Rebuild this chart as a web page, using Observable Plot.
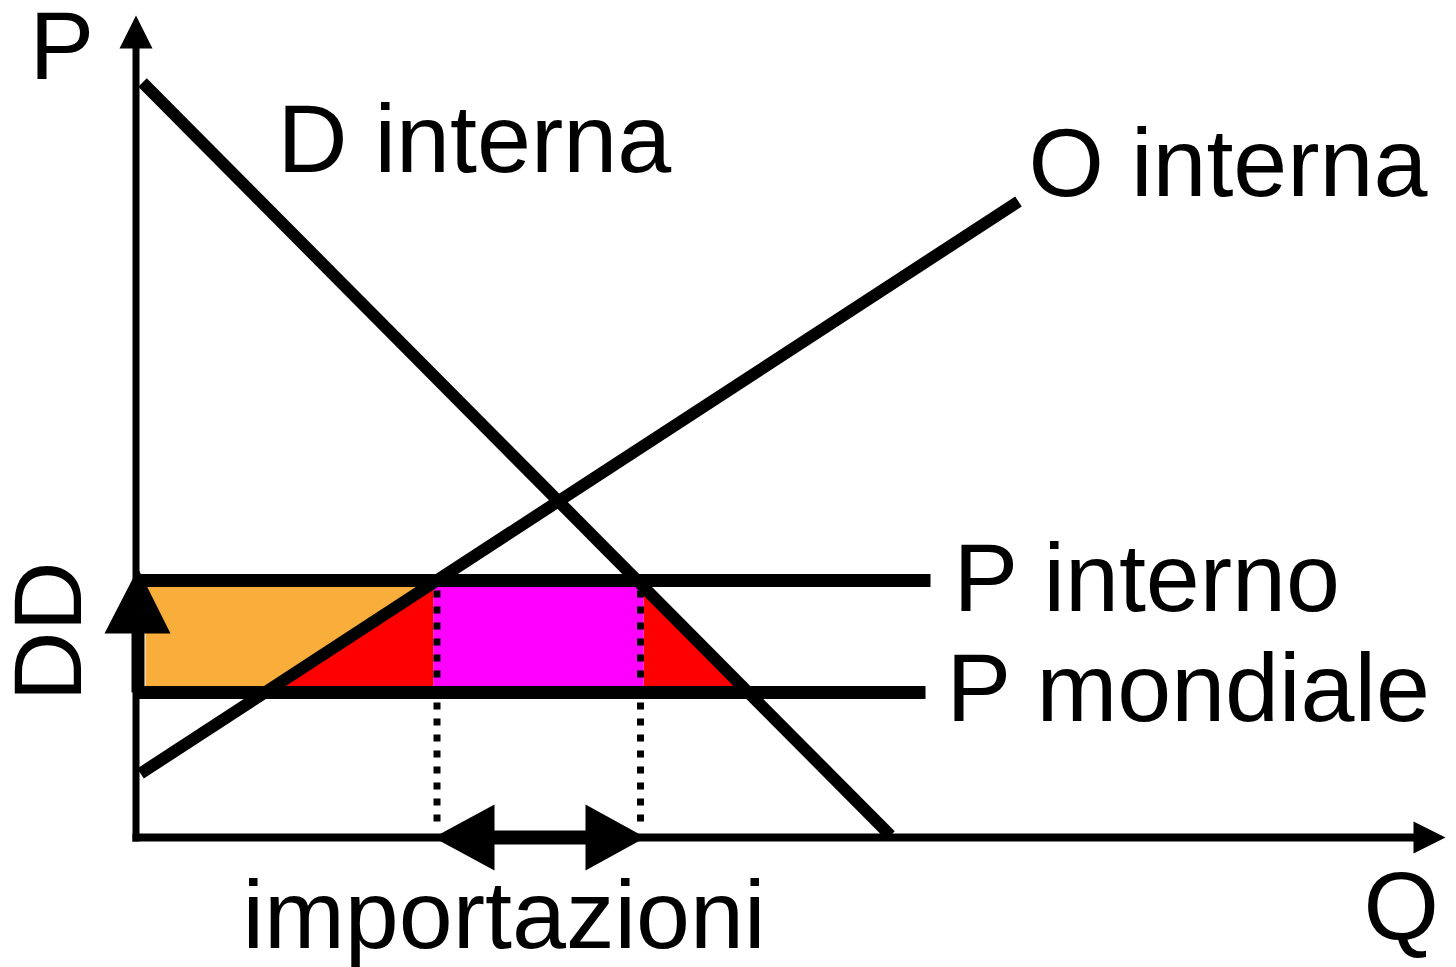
<!DOCTYPE html>
<html>
<head>
<meta charset="utf-8">
<script src="https://cdn.jsdelivr.net/npm/d3@7"></script>
<script src="https://cdn.jsdelivr.net/npm/@observablehq/plot@0.6"></script>
<style>
  html, body { margin: 0; padding: 0; background: #fff; }
</style>
</head>
<body>
<div id="chart"></div>
<script>
// ---- data (Q = quantity, P = price, arbitrary units) ----
const P_INTERNO = 25.7;
const P_MONDIALE = 14.5;
const demandQ = [0.7, 75.5];
const demandP = [75.5, 0.2];
const supplyQ = [0.5, 88.3];
const supplyP = [6.4, 63.6];
const importQ = [30.15, 50.5];      // dotted guide lines
const magentaQ = [29.8, 50.8];      // tariff revenue rectangle
const orangeLeftQ = 1.0;
const qAxisEnd = 131.0;
const pAxisEnd = 82.2;
const labels = [
  {text: "P", q: -10.6, p: 75.9},
  {text: "D interna", q: 14.2, p: 66.6},
  {text: "O interna", q: 89.3, p: 64.2},
  {text: "P interno", q: 81.8, p: 22.7},
  {text: "P mondiale", q: 81.1, p: 11.7},
  {text: "importazioni", q: 10.7, p: -11.0},
  {text: "Q", q: 122.8, p: -10.2}
];
const ddLabel = {text: "DD", q: -5.5, p: 13.6};

// ---- helpers (line equations from the endpoints above) ----
const supplyQat = p => supplyQ[0] + (p - supplyP[0]) * (supplyQ[1] - supplyQ[0]) / (supplyP[1] - supplyP[0]);
const supplyPat = q => supplyP[0] + (q - supplyQ[0]) * (supplyP[1] - supplyP[0]) / (supplyQ[1] - supplyQ[0]);
const demandQat = p => demandQ[0] + (p - demandP[0]) * (demandQ[1] - demandQ[0]) / (demandP[1] - demandP[0]);
const demandPat = q => demandP[0] + (q - demandQ[0]) * (demandP[1] - demandP[0]) / (demandQ[1] - demandQ[0]);
const pts = (qs, ps) => qs.map((q, i) => ({q, p: ps[i]}));
const poly = a => a.concat([a[0]]).map(([q, p]) => ({q, p}));

const orange = poly([[orangeLeftQ, P_MONDIALE], [orangeLeftQ, P_INTERNO], [supplyQat(P_INTERNO), P_INTERNO], [supplyQat(P_MONDIALE), P_MONDIALE]]);
const redLeft = poly([[supplyQat(P_MONDIALE), P_MONDIALE], [magentaQ[0], P_MONDIALE], [magentaQ[0], supplyPat(magentaQ[0])]]);
const magenta = poly([[magentaQ[0], P_MONDIALE], [magentaQ[0], P_INTERNO], [magentaQ[1], P_INTERNO], [magentaQ[1], P_MONDIALE]]);
const redRight = poly([[magentaQ[1], demandPat(magentaQ[1])], [magentaQ[1], P_MONDIALE], [demandQat(P_MONDIALE), P_MONDIALE]]);

// arrowheads
const headQAxis = poly([[127.8, -1.6], [qAxisEnd, 0], [127.8, 1.6]]);
const headPAxis = poly([[-1.6, 78.9], [0.05, pAxisEnd], [1.7, 78.9]]);
const headImpL = poly([[35.9, -3.3], [29.8, 0], [35.9, 3.3]]);
const headImpR = poly([[45.0, -3.3], [51.0, 0], [45.0, 3.3]]);
const headDD = poly([[-3.1, 20.4], [0.25, 26.9], [3.5, 20.4]]);

const F = {fill: "black", stroke: "none"};
const L = {x: "q", y: "p", strokeLinecap: "butt", curve: "linear"};
const FS = 97;

const chart = Plot.plot({
  width: 1456,
  height: 967,
  margin: 0,
  x: {domain: [-13.5, 132.1], axis: null},
  y: {domain: [-13, 83.7], axis: null},
  style: {background: "white", fontFamily: "'Liberation Sans', Arial, sans-serif", overflow: "visible"},
  marks: [
    Plot.line(orange, {...L, fill: "#f9ae3b", stroke: "none"}),
    Plot.line(redLeft, {...L, fill: "#ff0000", stroke: "none"}),
    Plot.line(redRight, {...L, fill: "#ff0000", stroke: "none"}),
    Plot.line(magenta, {...L, fill: "#ff00ff", stroke: "none"}),
    // dotted guides
    ...importQ.map(q => Plot.line(pts([q, q], [24.7, 0.9]), {...L, stroke: "black", strokeWidth: 7, strokeDasharray: "7,9"})),
    // price lines
    Plot.line(pts([-0.2, 79.5], [P_INTERNO, P_INTERNO]), {...L, stroke: "black", strokeWidth: 13}),
    Plot.line(pts([-0.2, 79.0], [P_MONDIALE, P_MONDIALE]), {...L, stroke: "black", strokeWidth: 13}),
    // supply & demand
    Plot.line(pts(supplyQ, supplyP), {...L, stroke: "black", strokeWidth: 12}),
    Plot.line(pts(demandQ, demandP), {...L, stroke: "black", strokeWidth: 12}),
    // axes
    Plot.line(pts([0.05, 0.05], [-0.4, 79.5]), {...L, stroke: "black", strokeWidth: 7}),
    Plot.line(pts([-0.3, 128.5], [0, 0]), {...L, stroke: "black", strokeWidth: 8}),
    Plot.line(headQAxis, {...L, ...F}),
    Plot.line(headPAxis, {...L, ...F}),
    // imports double arrow
    Plot.line(pts([33, 48], [0, 0]), {...L, stroke: "black", strokeWidth: 14}),
    Plot.line(headImpL, {...L, ...F}),
    Plot.line(headImpR, {...L, ...F}),
    // DD arrow
    Plot.line(pts([0.25, 0.25], [14.5, 21]), {...L, stroke: "black", strokeWidth: 13}),
    Plot.line(headDD, {...L, ...F}),
    // labels
    Plot.text(labels, {x: "q", y: "p", text: "text", fontSize: FS, textAnchor: "start", lineAnchor: "bottom", fill: "black"}),
    Plot.text([ddLabel], {x: "q", y: "p", text: "text", fontSize: FS, textAnchor: "start", lineAnchor: "bottom", rotate: -90, fill: "black"})
  ]
});
document.getElementById("chart").appendChild(chart);
</script>
</body>
</html>
